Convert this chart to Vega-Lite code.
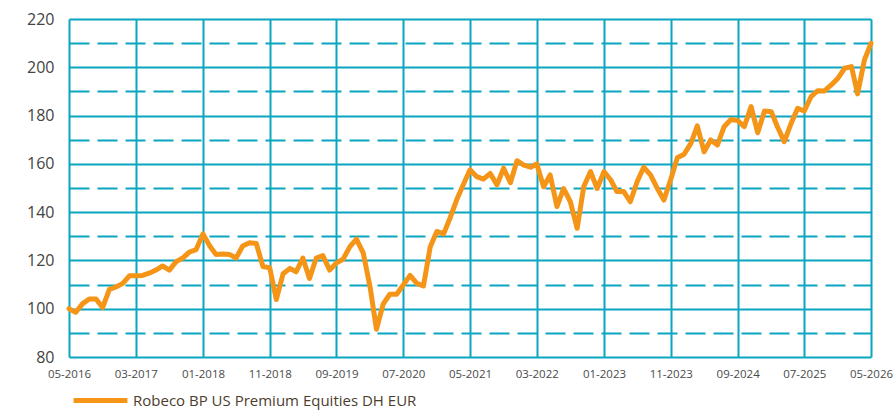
{
  "$schema": "https://vega.github.io/schema/vega-lite/v6.json",
  "width": 802,
  "height": 338,
  "autosize": {"type": "none"},
  "padding": {"left": 69, "top": 19, "right": 22, "bottom": 53},
  "background": "white",
  "config": {
    "view": {"stroke": null},
    "font": "Open Sans"
  },
  "data": {
    "values": [
      {"date": "2016-05-01", "v": 100},
      {"date": "2016-06-01", "v": 98.5},
      {"date": "2016-07-01", "v": 102},
      {"date": "2016-08-01", "v": 104},
      {"date": "2016-09-01", "v": 104},
      {"date": "2016-10-01", "v": 100.5},
      {"date": "2016-11-01", "v": 108},
      {"date": "2016-12-01", "v": 109},
      {"date": "2017-01-01", "v": 110.5},
      {"date": "2017-02-01", "v": 113.7},
      {"date": "2017-03-01", "v": 113.7},
      {"date": "2017-04-01", "v": 113.8},
      {"date": "2017-05-01", "v": 114.7},
      {"date": "2017-06-01", "v": 116},
      {"date": "2017-07-01", "v": 117.7},
      {"date": "2017-08-01", "v": 116},
      {"date": "2017-09-01", "v": 119.5},
      {"date": "2017-10-01", "v": 121},
      {"date": "2017-11-01", "v": 123.5},
      {"date": "2017-12-01", "v": 124.5},
      {"date": "2018-01-01", "v": 131},
      {"date": "2018-02-01", "v": 126},
      {"date": "2018-03-01", "v": 122.5},
      {"date": "2018-04-01", "v": 122.7},
      {"date": "2018-05-01", "v": 122.5},
      {"date": "2018-06-01", "v": 121},
      {"date": "2018-07-01", "v": 126},
      {"date": "2018-08-01", "v": 127.3},
      {"date": "2018-09-01", "v": 127},
      {"date": "2018-10-01", "v": 117.5},
      {"date": "2018-11-01", "v": 117},
      {"date": "2018-12-01", "v": 103.8},
      {"date": "2019-01-01", "v": 114.5},
      {"date": "2019-02-01", "v": 116.7},
      {"date": "2019-03-01", "v": 115.3},
      {"date": "2019-04-01", "v": 121},
      {"date": "2019-05-01", "v": 112.5},
      {"date": "2019-06-01", "v": 121},
      {"date": "2019-07-01", "v": 122},
      {"date": "2019-08-01", "v": 116},
      {"date": "2019-09-01", "v": 119},
      {"date": "2019-10-01", "v": 120.5},
      {"date": "2019-11-01", "v": 125.7},
      {"date": "2019-12-01", "v": 128.8},
      {"date": "2020-01-01", "v": 123},
      {"date": "2020-02-01", "v": 109},
      {"date": "2020-03-01", "v": 91.5},
      {"date": "2020-04-01", "v": 102},
      {"date": "2020-05-01", "v": 106},
      {"date": "2020-06-01", "v": 106},
      {"date": "2020-07-01", "v": 109.8},
      {"date": "2020-08-01", "v": 113.8},
      {"date": "2020-09-01", "v": 110.5},
      {"date": "2020-10-01", "v": 109.4},
      {"date": "2020-11-01", "v": 125.7},
      {"date": "2020-12-01", "v": 132},
      {"date": "2021-01-01", "v": 131},
      {"date": "2021-02-01", "v": 138},
      {"date": "2021-03-01", "v": 145},
      {"date": "2021-04-01", "v": 151.5},
      {"date": "2021-05-01", "v": 157.5},
      {"date": "2021-06-01", "v": 154.7},
      {"date": "2021-07-01", "v": 153.7},
      {"date": "2021-08-01", "v": 156},
      {"date": "2021-09-01", "v": 151.3},
      {"date": "2021-10-01", "v": 158.2},
      {"date": "2021-11-01", "v": 152.2},
      {"date": "2021-12-01", "v": 161.3},
      {"date": "2022-01-01", "v": 159.5},
      {"date": "2022-02-01", "v": 158.6},
      {"date": "2022-03-01", "v": 160},
      {"date": "2022-04-01", "v": 150.5},
      {"date": "2022-05-01", "v": 155.4},
      {"date": "2022-06-01", "v": 142.3},
      {"date": "2022-07-01", "v": 149.8},
      {"date": "2022-08-01", "v": 144.3},
      {"date": "2022-09-01", "v": 133.3},
      {"date": "2022-10-01", "v": 150.6},
      {"date": "2022-11-01", "v": 156.8},
      {"date": "2022-12-01", "v": 149.8},
      {"date": "2023-01-01", "v": 156.8},
      {"date": "2023-02-01", "v": 153.3},
      {"date": "2023-03-01", "v": 148.5},
      {"date": "2023-04-01", "v": 148.5},
      {"date": "2023-05-01", "v": 144.3},
      {"date": "2023-06-01", "v": 152.6},
      {"date": "2023-07-01", "v": 158.6},
      {"date": "2023-08-01", "v": 155.4},
      {"date": "2023-09-01", "v": 149.8},
      {"date": "2023-10-01", "v": 145},
      {"date": "2023-11-01", "v": 153.5},
      {"date": "2023-12-01", "v": 162.5},
      {"date": "2024-01-01", "v": 164},
      {"date": "2024-02-01", "v": 168.5},
      {"date": "2024-03-01", "v": 175.7},
      {"date": "2024-04-01", "v": 165},
      {"date": "2024-05-01", "v": 169.9},
      {"date": "2024-06-01", "v": 167.8},
      {"date": "2024-07-01", "v": 175.4},
      {"date": "2024-08-01", "v": 178.4},
      {"date": "2024-09-01", "v": 177.9},
      {"date": "2024-10-01", "v": 175.4},
      {"date": "2024-11-01", "v": 183.7},
      {"date": "2024-12-01", "v": 172.9},
      {"date": "2025-01-01", "v": 181.9},
      {"date": "2025-02-01", "v": 181.6},
      {"date": "2025-03-01", "v": 175.4},
      {"date": "2025-04-01", "v": 169.2},
      {"date": "2025-05-01", "v": 176.5},
      {"date": "2025-06-01", "v": 183},
      {"date": "2025-07-01", "v": 181.9},
      {"date": "2025-08-01", "v": 187.8},
      {"date": "2025-09-01", "v": 190.3},
      {"date": "2025-10-01", "v": 190.2},
      {"date": "2025-11-01", "v": 192.7},
      {"date": "2025-12-01", "v": 195.4},
      {"date": "2026-01-01", "v": 199.6},
      {"date": "2026-02-01", "v": 200.3},
      {"date": "2026-03-01", "v": 189},
      {"date": "2026-04-01", "v": 203},
      {"date": "2026-05-01", "v": 209.9}
    ]
  },
  "mark": {"type": "line", "strokeWidth": 5, "strokeJoin": "round", "strokeCap": "round", "clip": false},
  "encoding": {
    "x": {
      "field": "date",
      "type": "temporal",
      "scale": {
        "type": "utc",
        "domain": [
          {"year": 2016, "month": 5, "date": 1, "utc": true},
          {"year": 2026, "month": 5, "date": 1, "utc": true}
        ]
      },
      "axis": {
        "title": null,
        "domain": false,
        "ticks": false,
        "values": [
          {"year": 2016, "month": 5, "date": 1, "utc": true},
          {"year": 2017, "month": 3, "date": 1, "utc": true},
          {"year": 2018, "month": 1, "date": 1, "utc": true},
          {"year": 2018, "month": 11, "date": 1, "utc": true},
          {"year": 2019, "month": 9, "date": 1, "utc": true},
          {"year": 2020, "month": 7, "date": 1, "utc": true},
          {"year": 2021, "month": 5, "date": 1, "utc": true},
          {"year": 2022, "month": 3, "date": 1, "utc": true},
          {"year": 2023, "month": 1, "date": 1, "utc": true},
          {"year": 2023, "month": 11, "date": 1, "utc": true},
          {"year": 2024, "month": 9, "date": 1, "utc": true},
          {"year": 2025, "month": 7, "date": 1, "utc": true},
          {"year": 2026, "month": 5, "date": 1, "utc": true}
        ],
        "labelExpr": "utcFormat(datum.value, '%m-%Y')",
        "labelFont": "Open Sans",
        "labelFontSize": 11.5,
        "labelColor": "#4a4a4a",
        "labelPadding": 11,
        "labelOverlap": false,
        "labelFlush": false,
        "grid": true,
        "gridColor": "#0AA5C0",
        "gridWidth": 2,
        "gridOpacity": 1
      }
    },
    "y": {
      "field": "v",
      "type": "quantitative",
      "scale": {"domain": [80, 220], "nice": false, "zero": false},
      "axis": {
        "title": null,
        "domain": false,
        "ticks": false,
        "values": [80, 90, 100, 110, 120, 130, 140, 150, 160, 170, 180, 190, 200, 210, 220],
        "labelExpr": "datum.value % 20 === 0 ? datum.label : ''",
        "labelFont": "Open Sans",
        "labelFontSize": 16,
        "labelColor": "#444444",
        "labelPadding": 15,
        "grid": true,
        "gridColor": "#0AA5C0",
        "gridWidth": 2,
        "gridOpacity": 1,
        "gridDash": {"condition": {"test": "datum.value % 20 === 10", "value": [20, 8]}, "value": []}
      }
    },
    "color": {
      "datum": "Robeco BP US Premium Equities DH EUR",
      "type": "nominal",
      "scale": {"range": ["#F59518"]},
      "legend": {
        "title": null,
        "orient": "none",
        "legendX": 2,
        "legendY": 352,
        "padding": 0,
        "symbolType": "stroke",
        "symbolSize": 2900,
        "symbolStrokeWidth": 5,
        "labelFont": "Open Sans",
        "labelFontSize": 15,
        "labelLimit": 600,
        "labelColor": "#4b3d2e",
        "labelOffset": 3
      }
    }
  }
}
